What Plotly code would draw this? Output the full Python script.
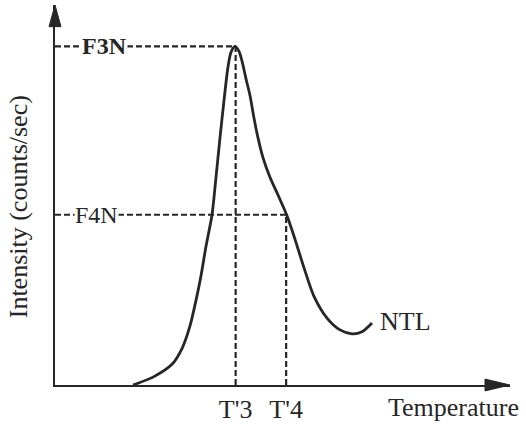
import plotly.graph_objects as go

# ---- data (arbitrary units: temperature 0-100, intensity 0-100) ----
temperature = [17.14, 21.54, 25.71, 27.91, 29.67, 30.99, 32.09, 33.19, 34.51, 35.38,
               36.26, 37.14, 38.02, 38.68, 39.56, 40.44, 41.10, 41.98, 42.86, 43.74,
               44.62, 45.71, 47.25, 49.01, 50.99, 52.75, 54.73, 56.92, 59.78, 62.64,
               65.27, 67.47, 69.67]
intensity = [0.0, 2.07, 5.44, 9.59, 15.54, 22.28, 28.76, 36.53, 44.82, 54.66,
             65.03, 74.87, 83.68, 87.56, 89.12, 87.82, 85.23, 80.57, 76.17, 70.21,
             65.03, 59.84, 54.66, 50.0, 44.56, 38.34, 30.83, 23.32, 17.62, 14.51,
             13.47, 14.0, 16.32]

T3, T4 = 39.7, 50.8          # T'3, T'4
F3N, F4N = 89.1, 44.8        # intensity levels
tick_labels = ["T'3", "T'4"]
curve_label = "NTL"
x_title = "Temperature"
y_title = "Intensity (counts/sec)"

INK = "#262626"
FONT = "Liberation Serif"
FS = 26

W, H = 526, 429
ML, MR, MT, MB = 55, 16, 5, 38
PW, PH = W - ML - MR, H - MT - MB

fig = go.Figure()

# dashed guide lines
dash = dict(color=INK, width=2.2, dash="6px,3px")
fig.add_trace(go.Scatter(x=[0, T3], y=[F3N, F3N], mode="lines", line=dash, hoverinfo="skip"))
fig.add_trace(go.Scatter(x=[T3, T3], y=[0, F3N], mode="lines", line=dash, hoverinfo="skip"))
fig.add_trace(go.Scatter(x=[0, T4], y=[F4N, F4N], mode="lines", line=dash, hoverinfo="skip"))
fig.add_trace(go.Scatter(x=[T4, T4], y=[0, F4N], mode="lines", line=dash, hoverinfo="skip"))

# glow curve
fig.add_trace(go.Scatter(x=temperature, y=intensity, mode="lines",
                         line=dict(color=INK, width=2.8, shape="spline", smoothing=0.8),
                         hoverinfo="skip"))

# arrow heads (sizes in pixels, converted to paper fractions)
ya_len, ya_half = 22 / PH, 6 / PW
xa_len, xa_half = 25 / PW, 6 / PH
arrow_y = f"M0,1 L{-ya_half},{1 - ya_len} L{ya_half},{1 - ya_len} Z"
arrow_x = f"M1,0 L{1 - xa_len},{xa_half} L{1 - xa_len},{-xa_half} Z"

fig.update_layout(
    width=W, height=H,
    margin=dict(l=ML, r=MR, t=MT, b=MB),
    paper_bgcolor="white", plot_bgcolor="white",
    showlegend=False,
    font=dict(family=FONT, size=FS, color=INK),
    xaxis=dict(range=[0, 100], showgrid=False, zeroline=False, showline=True,
               linecolor=INK, linewidth=2, ticks="",
               tickvals=[T3, T4], ticktext=tick_labels,
               tickfont=dict(family=FONT, size=FS, color=INK)),
    yaxis=dict(range=[0, 100], showgrid=False, zeroline=False, showline=True,
               linecolor=INK, linewidth=2, ticks="", showticklabels=False),
    shapes=[
        dict(type="path", xref="paper", yref="paper", path=arrow_y,
             fillcolor=INK, line=dict(color=INK, width=1)),
        dict(type="path", xref="paper", yref="paper", path=arrow_x,
             fillcolor=INK, line=dict(color=INK, width=1)),
    ],
    annotations=[
        dict(x=10.9, y=F3N, xref="x", yref="y", text="<b>F3N</b>", showarrow=False,
             bgcolor="white", borderpad=0, font=dict(size=FS - 2)),
        dict(x=9.2, y=F4N, xref="x", yref="y", text="F4N", showarrow=False,
             bgcolor="white", borderpad=0, font=dict(size=FS - 2)),
        dict(x=77.1, y=16.8, xref="x", yref="y", text=curve_label, showarrow=False,
             font=dict(size=FS)),
        dict(x=87.5, y=0, xref="x", yref="paper", yanchor="top", yshift=-6,
             text=x_title, showarrow=False, font=dict(size=FS)),
        dict(x=0, y=46.9, xref="paper", yref="y", xanchor="right", xshift=-20,
             text=y_title, textangle=-90, showarrow=False, font=dict(size=FS)),
    ],
)

fig.write_html("out.html", config={"displayModeBar": False},
               post_script="document.body.style.margin='0px';")
